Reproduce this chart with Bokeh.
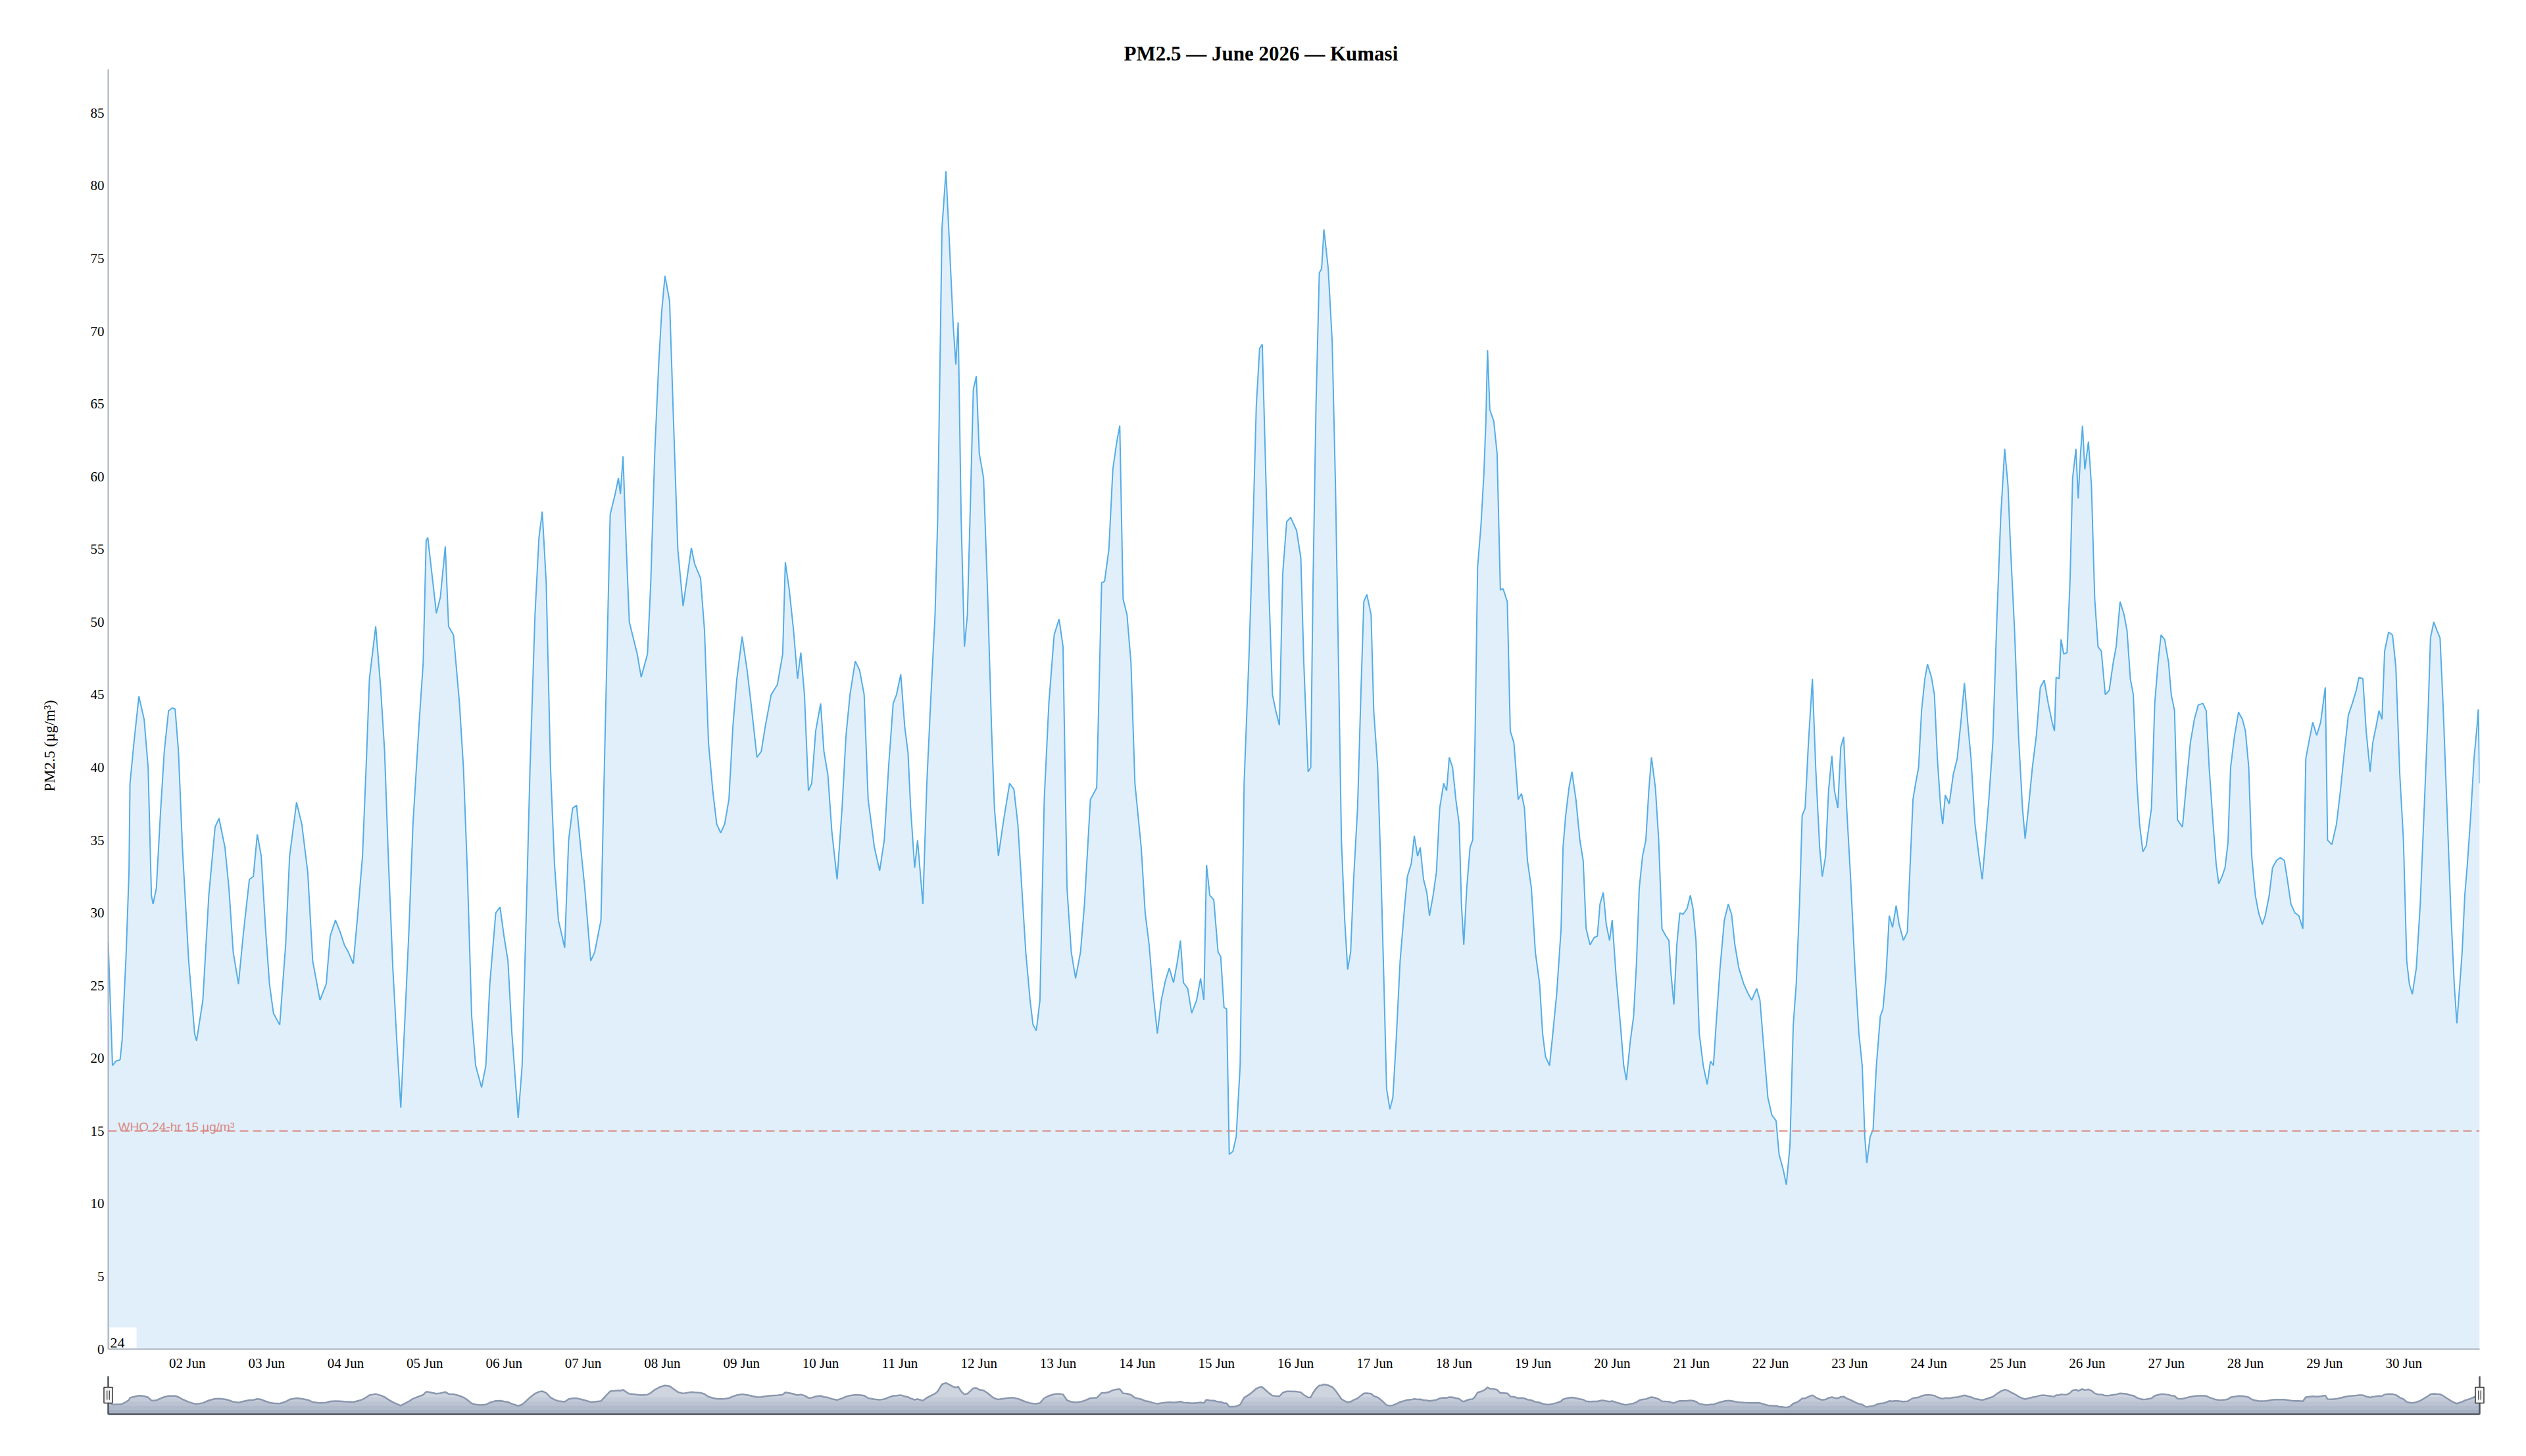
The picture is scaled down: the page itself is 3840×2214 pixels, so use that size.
import numpy as np
import pandas as pd
from bokeh.plotting import figure
from bokeh.models import Range1d, DaysTicker, DatetimeTickFormatter, FixedTicker, Span, Label, Title
from bokeh.layouts import column
from bokeh.embed import file_html
from bokeh.resources import INLINE

# ---------------- data ----------------
TITLE = "PM2.5 — June 2026 — Kumasi"
Y_TITLE = "PM2.5 (µg/m³)"
START = "2026-06-01T00:00"
END_HOUR = 719
y_ticks = list(range(0, 90, 5))
x_tick_days = list(range(2, 31))          # labels "02 Jun" ... "30 Jun"
who_limit = 15
who_label = "WHO 24-hr 15 µg/m³"
corner_label = "24"

# (hours since 01 Jun 00:00, PM2.5 µg/m³)
readings_jun01_07 = [
    (0, 28), (1.3, 19.5), (2.3, 19.8), (3.6, 19.9), (4.2, 21.2), (5.4, 27), (6.3, 32.8), (6.6, 38.9),
    (7.8, 41.7), (9.3, 44.9), (10.9, 43.3), (12.1, 40), (13.1, 31.2), (13.6, 30.6), (14.6, 31.7),
    (15.8, 36.7), (17.0, 41.1), (18.3, 43.9), (19.5, 44.1), (20.3, 44.0), (21.3, 41.1), (22.5, 34.5),
    (24.4, 26.7), (26.2, 21.7), (26.8, 21.2), (28.7, 24), (30.5, 31.2), (32.4, 35.9), (33.6, 36.5),
    (35.4, 34.5), (36.6, 31.7), (37.9, 27.3), (39.5, 25.1), (40.9, 28.4), (42.8, 32.3), (44.0, 32.5),
    (45.2, 35.4), (46.4, 33.9), (47.7, 28.9), (48.9, 25.1), (50.1, 23.1), (52.0, 22.3), (53.8, 27.8),
    (55.0, 33.9), (57.1, 37.6), (58.7, 36.1), (60.5, 32.8), (62.0, 26.7), (64.2, 24), (66.1, 25.1),
    (67.3, 28.4), (68.9, 29.5), (70.3, 28.7), (71.6, 27.8), (72.8, 27.3), (74.3, 26.5), (75.5, 29.5),
    (77.1, 33.9), (78.3, 40.6), (79.2, 46.1), (81.1, 49.7), (82.6, 45.5), (83.8, 41.1), (85.0, 33.4),
    (86.3, 26.2), (87.5, 21.2), (88.7, 16.6), (90.0, 22.9), (91.2, 28.9), (92.4, 36.1), (94.2, 42.8),
    (95.5, 47.2), (96.4, 55.6), (96.9, 55.8), (97.9, 53.8), (99.5, 50.6), (100.7, 51.7), (102.2, 55.2),
    (103.2, 49.7), (104.7, 49.1), (106.5, 44.4), (107.7, 40), (108.9, 32.8), (110.2, 22.9),
    (111.4, 19.5), (113.2, 18), (114.5, 19.5), (115.7, 25.1), (117.5, 30), (118.8, 30.4), (120.0, 28.4),
    (121.2, 26.7), (122.4, 21.7), (124.3, 15.9), (125.5, 19.5), (126.7, 29.5), (127.9, 40),
    (129.4, 50.5), (130.6, 55.8), (131.6, 57.6), (132.8, 52.7), (134.1, 40), (135.3, 33.4),
    (136.5, 29.5), (138.4, 27.6), (139.6, 35), (140.8, 37.2), (142.0, 37.4), (142.9, 35.3),
    (144.5, 31.7), (146.3, 26.7), (147.5, 27.3), (149.4, 29.5), (150.6, 41.7), (152.2, 57.4),
    (153.7, 58.8), (154.7, 59.9), (155.3, 58.8), (156.1, 61.4), (157.1, 55), (158.0, 50),
    (159.2, 48.9), (160.4, 47.8), (161.6, 46.2), (163.5, 47.8), (164.5, 52.7), (165.7, 61.6),
    (166.9, 67.7), (167.8, 71.3), (168.8, 73.8), (170.2, 72.1), (171.4, 63.8), (172.7, 55),
    (174.3, 51.1),
]
readings_jun08_15 = [
    (176.8, 55.1), (177.8, 54), (179.6, 53), (180.8, 49.4), (182.0, 41.7), (183.3, 38.4), (184.5, 36.1),
    (185.7, 35.5), (186.9, 36.1), (188.2, 37.8), (189.4, 42.8), (190.6, 46.1), (192.2, 49), (193.7, 46.7),
    (194.9, 44.4), (196.7, 40.7), (198.0, 41.1), (199.2, 42.8), (201.0, 45), (202.9, 45.7), (204.5, 47.8),
    (205.3, 54.1), (206.5, 52.2), (207.8, 49.4), (209.0, 46.1), (210.0, 47.9), (211.1, 45), (212.3, 38.4),
    (213.3, 38.9), (214.5, 42.5), (216.0, 44.4), (217.0, 41.1), (218.2, 39.5), (219.4, 35.6),
    (221.0, 32.3), (222.5, 37.2), (223.7, 42.2), (224.9, 45), (226.5, 47.3), (227.8, 46.7), (229.2, 45),
    (230.4, 37.8), (232.3, 34.5), (233.9, 32.9), (235.3, 35), (236.6, 40), (238.0, 44.4), (239.0, 45),
    (240.3, 46.4), (241.5, 42.8), (242.5, 41), (243.3, 37.2), (244.5, 33.1), (245.4, 35), (247.0, 30.6),
    (248.2, 38.9), (249.4, 44.7), (250.7, 50.5), (251.5, 57.2), (252.8, 77.1), (254.0, 81), (255.0, 76.3),
    (256.2, 70.4), (257.0, 67.7), (257.7, 70.6), (258.6, 57.2), (259.6, 48.3), (260.5, 50.5),
    (261.3, 57.2), (262.3, 66), (263.2, 66.9), (264.1, 61.6), (265.4, 59.9), (266.6, 52.2), (267.8, 42.8),
    (268.7, 37.2), (269.9, 33.9), (271.5, 36.4), (273.3, 38.9), (274.6, 38.5), (275.8, 36.1),
    (277.0, 31.7), (278.2, 27.3), (279.5, 24), (280.4, 22.3), (281.4, 21.9), (282.5, 24), (283.8, 37.8),
    (285.2, 44.4), (286.8, 49.1), (288.3, 50.2), (289.5, 48.3), (290.7, 31.7), (292.0, 27.3),
    (293.3, 25.5), (294.8, 27.3), (296.0, 30.6), (297.8, 37.8), (299.7, 38.6), (301.2, 52.7),
    (302.1, 52.8), (303.4, 55), (304.6, 60.5), (305.8, 62.4), (306.7, 63.5), (307.7, 51.6), (308.9, 50.5),
    (310.1, 47.2), (311.3, 38.9), (313.2, 34.5), (314.4, 30), (315.6, 27.8), (316.8, 24.5), (318.1, 21.7),
    (319.3, 24), (320.5, 25.3), (321.7, 26.2), (323.0, 25.2), (324.2, 26.7), (325.1, 28.1), (326.0, 25.2),
    (327.3, 24.8), (328.5, 23.1), (330.0, 24), (331.2, 25.5), (332.2, 24), (333.0, 33.3), (334.0, 31.2),
    (335.2, 30.9), (336.5, 27.3), (337.3, 27), (338.3, 23.5), (339.1, 23.4), (339.9, 13.4), (341.0, 13.6),
    (342.0, 14.6), (343.2, 19.5), (344.4, 38.9), (345.9, 47.8), (346.9, 55), (348.1, 64.9), (349.1, 68.8),
    (349.9, 69.1), (351.2, 58.3), (352.0, 51.6), (353.0, 45), (354.0, 43.9), (355.1, 42.9), (356.1, 53.3),
    (357.3, 56.9), (358.5, 57.2), (360.3, 56.3), (361.6, 54.4), (362.5, 47.2), (363.8, 39.7), (364.6, 40),
]
readings_jun16_23 = [
    (365.3, 52.7), (366.2, 64.9), (367.2, 74), (367.9, 74.3), (368.6, 77), (369.9, 74.3), (371.1, 69.3),
    (372.1, 59.4), (373.1, 46.1), (373.9, 35), (374.9, 29.5), (375.8, 26.1), (376.7, 27.3), (377.6, 32.3),
    (378.8, 37.2), (379.8, 45), (380.7, 51.4), (381.6, 51.9), (382.9, 50.5), (383.7, 43.9), (384.9, 40),
    (385.9, 32.8), (386.8, 25.1), (387.6, 17.9), (388.6, 16.5), (389.5, 17.3), (390.5, 21.2),
    (391.7, 26.7), (392.9, 30), (393.9, 32.5), (395.1, 33.4), (396.0, 35.3), (397.0, 33.9), (397.8, 34.5),
    (398.8, 32.3), (399.8, 31.4), (400.6, 29.8), (401.7, 31.2), (402.7, 32.8), (403.7, 37.2),
    (404.9, 38.9), (405.8, 38.4), (406.6, 40.7), (407.6, 40), (408.6, 37.8), (409.6, 36.1), (410.3, 30.6),
    (411.0, 27.8), (411.9, 31.7), (412.9, 34.5), (413.7, 35), (414.4, 41.7), (415.2, 53.8), (416.2, 56.6),
    (417.1, 60.2), (417.7, 63.8), (418.2, 68.7), (418.9, 64.6), (420.1, 63.8), (421.1, 61.6),
    (422.1, 52.2), (422.9, 52.3), (424.2, 51.4), (425.1, 42.5), (426.2, 41.7), (427.5, 37.8),
    (428.5, 38.2), (429.4, 37.2), (430.3, 33.6), (431.5, 31.7), (432.7, 27.3), (434.0, 25.1),
    (434.9, 21.7), (435.8, 20.1), (437.0, 19.5), (438.0, 21.7), (439.2, 24.5), (440.5, 28.9),
    (441.1, 34.5), (441.9, 36.7), (442.9, 38.6), (443.8, 39.7), (445.0, 37.8), (446.2, 35), (447.2, 33.6),
    (448.1, 28.9), (449.3, 27.8), (450.5, 28.3), (451.5, 28.4), (452.3, 30.6), (453.3, 31.4),
    (454.2, 29.2), (455.2, 28.1), (456.0, 29.5), (457.2, 25.6), (458.5, 22.3), (459.5, 19.5),
    (460.3, 18.5), (461.5, 21.2), (462.5, 22.9), (463.4, 26.7), (464.2, 31.7), (465.2, 33.9), (466.2, 35),
    (467.1, 38.4), (467.9, 40.7), (469.1, 38.6), (470.1, 35), (471.1, 28.9), (472.3, 28.4), (473.2, 28.1),
    (473.8, 25.9), (474.7, 23.7), (475.6, 27.8), (476.5, 30), (477.5, 29.9), (478.7, 30.3), (479.7, 31.2),
    (480.5, 30.3), (481.4, 28.1), (482.4, 21.7), (483.6, 19.5), (484.8, 18.2), (485.8, 19.8),
    (486.7, 19.5), (487.5, 22.3), (488.7, 26.2), (490.0, 29.5), (491.2, 30.6), (492.2, 29.9),
    (493.2, 27.8), (494.4, 26.2), (495.9, 25.1), (497.1, 24.5), (498.3, 24), (499.8, 24.8), (500.8, 24),
    (502.0, 20.6), (503.2, 17.3), (504.4, 16.1), (505.7, 15.7), (506.6, 13.4), (507.9, 12.3),
    (508.8, 11.3), (509.9, 14), (510.9, 22.3), (511.8, 25.1), (512.8, 30.6), (513.6, 36.7), (514.5, 37.2),
    (515.5, 41.7), (516.7, 46.1), (517.7, 40), (518.9, 34.5), (519.7, 32.5), (520.7, 33.9), (521.6, 38.4),
    (522.6, 40.8), (523.4, 38.4), (524.4, 37.2), (525.3, 41.4), (526.2, 42.1), (527.1, 37.2),
    (528.3, 32.3), (529.6, 26.2), (530.8, 21.7), (531.8, 19.5), (532.6, 14.6), (533.2, 12.8),
    (534.2, 14.6), (535.1, 15.1), (536.1, 19.5), (537.3, 22.9), (538.1, 23.4), (539.0, 25.6),
    (540.0, 29.8), (541.0, 29), (542.1, 30.5), (543.0, 29.2), (544.3, 28.1), (545.5, 28.7),
]
readings_jun24_30 = [
    (546.3, 33.1), (547.2, 37.8), (548.0, 38.9), (548.9, 40), (549.8, 43.9), (550.8, 46.1), (551.6, 47.1),
    (552.8, 46.2), (553.7, 45), (554.6, 40.6), (555.6, 37.2), (556.2, 36.1), (557.0, 38.1), (558.2, 37.5),
    (559.4, 39.5), (560.6, 40.6), (561.8, 43.3), (562.8, 45.8), (563.9, 42.8), (564.8, 40.6), (566.0, 36.1),
    (567.2, 33.9), (568.2, 32.3), (569.2, 35), (570.2, 37.8), (571.4, 41.7), (572.6, 50), (573.8, 57.2),
    (575.0, 61.9), (576.0, 59.4), (576.8, 55), (578.0, 49.4), (579.2, 42.2), (580.4, 37.2), (581.2, 35.1),
    (582.2, 37.2), (583.4, 40), (584.6, 42.2), (585.8, 45.5), (587.0, 46), (588.2, 44.4), (589.4, 43.1),
    (590.1, 42.5), (590.6, 46.2), (591.5, 46.1), (592.1, 48.8), (592.9, 47.8), (593.9, 47.9),
    (594.8, 52.7), (595.6, 59.9), (596.6, 61.9), (597.3, 58.5), (598.0, 61.6), (598.6, 63.5),
    (599.3, 60.5), (600.4, 62.4), (601.3, 59.4), (602.3, 51.6), (603.3, 48.3), (604.3, 48), (605.5, 45),
    (606.7, 45.3), (607.9, 47.2), (608.8, 48.3), (610.0, 51.4), (611.2, 50.5), (612.1, 49.4),
    (613.1, 46.1), (614.0, 45), (615.1, 38.9), (615.9, 36.1), (616.9, 34.2), (617.9, 34.6), (618.7, 35.9),
    (619.5, 37.2), (620.5, 44.4), (621.5, 47.2), (622.4, 49.1), (623.5, 48.8), (624.7, 47.2), (625.5, 45),
    (626.5, 43.9), (627.4, 36.4), (628.9, 35.9), (630.1, 38.9), (631.3, 41.7), (632.5, 43.3),
    (633.7, 44.3), (635.1, 44.4), (636.1, 43.9), (637.0, 40), (638.2, 36.1), (639.1, 33.4), (639.9, 32),
    (640.9, 32.5), (641.8, 33.1), (642.7, 34.8), (643.5, 40), (644.7, 42.2), (645.9, 43.8), (647.1, 43.3),
    (648.0, 42.5), (649.0, 40), (649.9, 33.9), (651.0, 31.2), (652.0, 30), (653.1, 29.2), (654.0, 29.8),
    (655.2, 31.2), (656.2, 33.1), (657.4, 33.6), (658.6, 33.8), (659.8, 33.6), (660.7, 32.3),
    (661.8, 30.6), (663.0, 30), (664.2, 29.8), (665.4, 28.9), (666.3, 40.6), (667.2, 41.7), (668.4, 43.1),
    (669.6, 42.2), (670.8, 43.1), (672.2, 45.5), (672.9, 35), (674.2, 34.7), (675.6, 36.1), (676.8, 38.4),
    (678.0, 41.1), (679.2, 43.6), (680.4, 44.4), (681.6, 45.3), (682.4, 46.2), (683.6, 46.1),
    (684.6, 42.5), (685.8, 39.7), (686.6, 41.7), (687.6, 42.8), (688.5, 43.9), (689.4, 43.3), (690.2, 48),
    (691.4, 49.3), (692.6, 49.1), (693.6, 46.9), (694.8, 39.5), (695.9, 35), (696.9, 26.7), (697.7, 25.1),
    (698.6, 24.4), (699.8, 26.2), (701.0, 30.6), (702.2, 37.2), (703.4, 43.9), (704.1, 48.9), (705.1, 50),
    (706.1, 49.4), (707.0, 48.9), (707.9, 44.4), (709.1, 37.2), (710.3, 30), (711.3, 25.1), (712.1, 22.4),
    (713.0, 25.1), (713.7, 27.3), (714.5, 31.2), (715.3, 33.4), (716.3, 36.7), (717.3, 40.6),
    (718.2, 42.8), (718.6, 44), (719.0, 38.9),
]

# ---------------- build ----------------
readings = readings_jun01_07 + readings_jun08_15 + readings_jun16_23 + readings_jun24_30
hours = np.array([h for h, _ in readings], dtype=float)
pm25 = np.array([v for _, v in readings], dtype=float)

HOUR_MS = 3600 * 1000
start_ms = pd.Timestamp(START).value / 1e6
x = start_ms + hours * HOUR_MS


def hx(h):
    return start_ms + h * HOUR_MS


SERIF = "Liberation Serif"
AXIS_COLOR = "#a8b0bd"

p = figure(width=3824, height=2091, x_axis_type="datetime",
           x_range=Range1d(hx(0), hx(END_HOUR)), y_range=Range1d(0, 88),
           output_backend="svg", toolbar_location=None,
           min_border_left=164, min_border_right=55, min_border_top=105, min_border_bottom=40)
p.frame_align = False
p.outline_line_color = None
p.xgrid.visible = False
p.ygrid.visible = False

# chart title (centred on the whole chart width)
p.title.text = TITLE
p.title.align = "left"
p.title.offset = 1544
p.title.standoff = 14
p.title.text_font = SERIF
p.title.text_font_style = "bold"
p.title.text_font_size = "31px"
p.title.text_color = "#000000"

p.xaxis.ticker = DaysTicker(days=x_tick_days)
p.xaxis.formatter = DatetimeTickFormatter(days="%d %b", months="%d %b", hours="%d %b")
p.yaxis.ticker = FixedTicker(ticks=y_ticks)
for ax in (p.xaxis[0], p.yaxis[0]):
    ax.major_tick_line_color = None
    ax.minor_tick_line_color = None
    ax.major_tick_out = 0
    ax.major_tick_in = 0
    ax.minor_tick_out = 0
    ax.minor_tick_in = 0
    ax.major_label_text_font = SERIF
    ax.major_label_text_font_size = "21px"
    ax.major_label_text_color = "#000000"
    ax.axis_line_color = AXIS_COLOR
    ax.axis_line_width = 2
p.xaxis.major_label_standoff = 9
p.yaxis.major_label_standoff = 6

# y-axis title as a side title
p.add_layout(Title(text=Y_TITLE, align="left", offset=848, standoff=93, text_font=SERIF,
                   text_font_style="normal", text_font_size="23px", text_color="#000000"), "left")

p.varea(x=x, y1=0, y2=pm25, fill_color="#e1effa", fill_alpha=1.0)
p.add_layout(Span(location=who_limit, dimension="width", line_color="#d98a83",
                  line_width=2, line_dash="13 7"))
p.line(x, pm25, line_color="#55ade6", line_width=2)

p.add_layout(Label(x=hx(3.0), y=who_limit + 0.27, text=who_label, text_font="Liberation Sans",
                   text_font_size="19px", text_color="#d98a83", text_baseline="alphabetic"))

# small label box at the bottom-left corner of the plot
p.quad(left=[hx(0.4)], right=[hx(8.6)], bottom=[0.05], top=[1.49],
       fill_color="white", line_color=None)
p.add_layout(Label(x=hx(0.6), y=0.42, text=corner_label, text_font=SERIF,
                   text_font_size="22px", text_color="#000000", text_baseline="alphabetic"))

# ---------------- navigator ----------------
nav = figure(width=3824, height=77, x_axis_type="datetime",
             x_range=Range1d(hx(-2.79), hx(END_HOUR + 2.79)), y_range=Range1d(-19.3, 100.5),
             x_axis_location=None, y_axis_location=None,
             output_backend="svg", toolbar_location=None,
             min_border_left=150, min_border_right=41, min_border_top=1, min_border_bottom=12)
nav.frame_align = False
nav.outline_line_color = None
nav.grid.visible = False

NAV_BASE = -8
bands = [(100, "#cfd5df"), (40, "#c5ccd9"), (28, "#bbc3d2"), (16, "#b1bacb"), (4, "#a7b1c4")]
for top, col in bands:
    nav.varea(x=x, y1=NAV_BASE, y2=np.minimum(pm25, top), fill_color=col, fill_alpha=1.0)
nav.line(x, pm25, line_color="#8a97ae", line_width=2.5)

x0, x1 = hx(0), hx(END_HOUR)
nav.segment(x0=[x0, x1, x0], y0=[NAV_BASE, NAV_BASE, NAV_BASE], x1=[x0, x1, x1], y1=[100.5, 100.5, NAV_BASE],
            line_color="#4d535c", line_width=2.5)
nav.rect(x=[x0, x1], y=[46.3, 46.3], width=13, height=24, width_units="screen", height_units="screen",
         fill_color="#f2f2f2", line_color="#333333", line_width=1.5)
gx = [hx(-0.35), hx(0.35), hx(END_HOUR - 0.35), hx(END_HOUR + 0.35)]
nav.segment(x0=gx, y0=[33.1] * 4, x1=gx, y1=[59.4] * 4, line_color="#333333", line_width=1.2)

layout = column(p, nav)
open("out.html", "w", encoding="utf-8").write(file_html(layout, INLINE, title="PM2.5 — June 2026 — Kumasi"))
